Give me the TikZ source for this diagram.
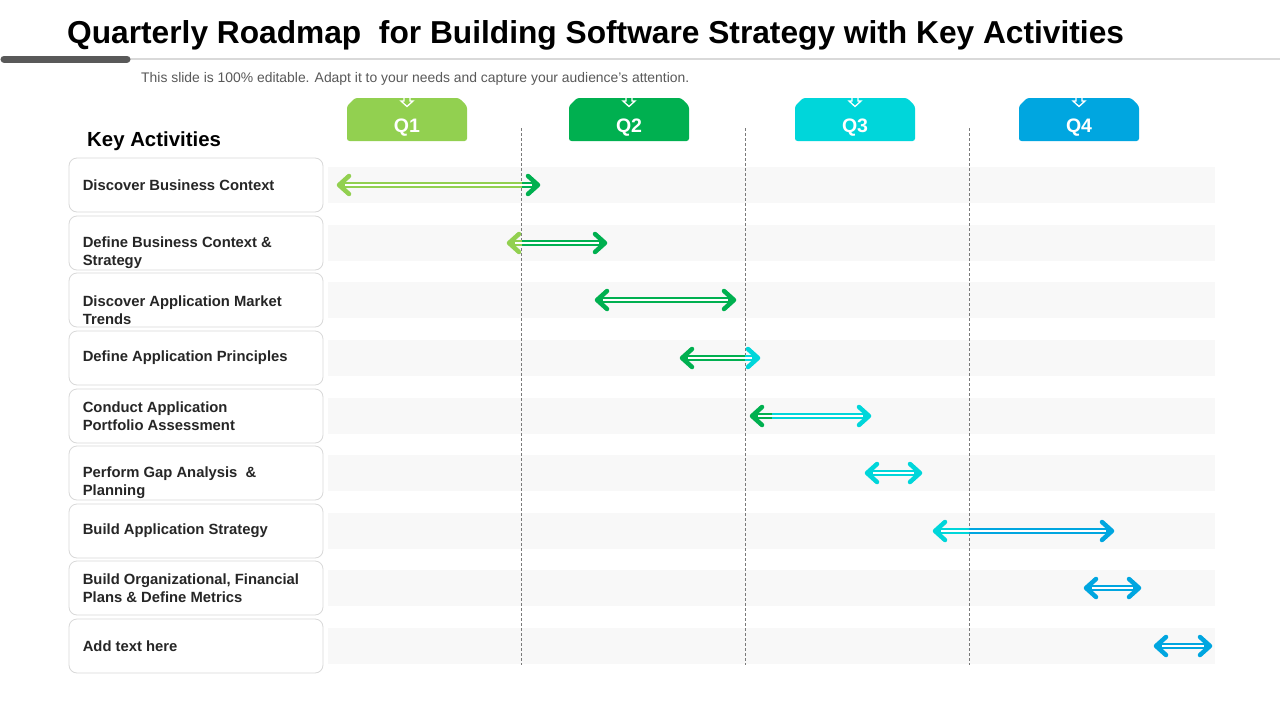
\documentclass[tikz,border=0pt]{standalone}
\usepackage{fontspec}
\setmainfont{Liberation Sans}
\definecolor{qone}{HTML}{92D050}
\definecolor{qtwo}{HTML}{00B050}
\definecolor{qthree}{HTML}{00D6DA}
\definecolor{qfour}{HTML}{00A6E0}
\definecolor{inkdark}{HTML}{262626}
\definecolor{inkgray}{HTML}{595959}
\definecolor{boxline}{HTML}{D9D9D9}
\definecolor{bandgray}{HTML}{F8F8F8}
\tikzset{
  slidetitle/.style={font=\fontsize{31.7}{38}\selectfont\bfseries, text=black, inner sep=0pt, anchor=west},
  slidenote/.style={font=\fontsize{13.9}{16}\selectfont, text=inkgray, inner sep=0pt, anchor=west},
  colhead/.style={font=\fontsize{20.4}{24}\selectfont\bfseries, text=black, inner sep=0pt, anchor=west},
  actbox/.style={draw=boxline, fill=white, rounded corners=8pt, line width=0.8pt,
    minimum width=254pt, minimum height=54pt, inner sep=0pt},
  acttext/.style={font=\fontsize{14.8}{18}\selectfont\bfseries, text=inkdark, align=left,
    inner sep=0pt, anchor=west},
  qlabel/.style={font=\fontsize{19.5}{22}\selectfont\bfseries, text=white, inner sep=0pt},
  qdiv/.style={draw=inkgray!80, line width=0.7pt, dash pattern=on 3pt off 2pt},
  band/.style={fill=bandgray},
  shaft/.style={line width=5.8pt},
  stripe/.style={draw=white, line width=1.3pt},
  head/.style={line width=4.5pt, line cap=round, line join=round}
}
\begin{document}
\begin{tikzpicture}[x=1pt, y=-1pt]
  \useasboundingbox (0,0) rectangle (1280,720);
  \fill[white] (0,0) rectangle (1280,720);

  % title and rule
  \node[slidetitle] (title) at (67,35) {Quarterly Roadmap\ \ for Building Software Strategy with Key Activities};
  \draw[boxline, line width=2pt] (130,59) -- (1280,59);
  \draw[inkgray, line width=7pt, line cap=round] (4,59) -- (127,59);
  \node[slidenote] (note) at (141,79) {This slide is 100\% editable. Adapt it to your needs and capture your audience's attention.};
  \node[colhead] (keyact) at (87,141) {Key Activities};

  % background bands
  \foreach \y in {185,243,300,358,416,473,531,588,646}
    \fill[band] (328,\y-18) rectangle (1215,\y+18);

  % quarter dividers
  \foreach \x in {521,745,969}
    \draw[qdiv] (\x,128) -- (\x,665);

  % quarter tabs
  \foreach \x/\q/\col in {407/Q1/qone, 629/Q2/qtwo, 855/Q3/qthree, 1079/Q4/qfour} {
    \fill[color=\col, rounded corners=2.5pt] (\x-60,141) -- (\x-60,106) -- (\x-52,98)
      -- (\x+52,98) -- (\x+60,106) -- (\x+60,141) -- cycle;
    \draw[white, line width=1.3pt] (\x-3,98) -- (\x-3,101) -- (\x-6,101) -- (\x,106.5)
      -- (\x+6,101) -- (\x+3,101) -- (\x+3,98);
    \node[qlabel] (tab\q) at (\x,128) {\q};
  }

  % activity boxes
  \foreach \i/\y/\off/\txt in {
      1/185/0/{Discover Business Context},
      2/243/-10/{Define Business Context \&\\Strategy},
      3/300/-10/{Discover Application Market\\Trends},
      4/358/0/{Define Application Principles},
      5/416/0/{Conduct Application\\Portfolio Assessment},
      6/473/-10/{Perform Gap Analysis \ \&\\Planning},
      7/531/0/{Build Application Strategy},
      8/588/0/{Build Organizational, Financial\\Plans \& Define Metrics},
      9/646/0/{Add text here}} {
    \node[actbox] (act\i) at (196,\y) {};
    \node[acttext] (lbl\i) at ([xshift=14pt, yshift=\off pt]act\i.west) {\txt};
  }

  % activity arrows
  \foreach \y/\xa/\xb/\xs/\cl/\cr in {
      185/337/540/522/qone/qtwo,
      243/507/607/522/qone/qtwo,
      300/595/736/745/qtwo/qtwo,
      358/680/760/745/qtwo/qthree,
      416/750/871/772/qtwo/qthree,
      473/865/922/969/qthree/qthree,
      531/933/1114/969/qthree/qfour,
      588/1084/1141/969/qfour/qfour,
      646/1154/1212/969/qfour/qfour} {
    \foreach \ca/\cb/\col in {0/\xs/\cl, \xs/1280/\cr} {
      \begin{scope}
        \clip (\ca,100) rectangle (\cb,700);
        \draw[shaft, color=\col] (\xa+4,\y) -- (\xb-4,\y);
        \draw[stripe] (\xa+8,\y) -- (\xb-8,\y);
        \draw[head, color=\col] (\xa+12,\y-9) -- (\xa+2,\y) -- (\xa+12,\y+9);
        \draw[head, color=\col] (\xb-12,\y-9) -- (\xb-2,\y) -- (\xb-12,\y+9);
      \end{scope}
    }
  }
\end{tikzpicture}
\end{document}
